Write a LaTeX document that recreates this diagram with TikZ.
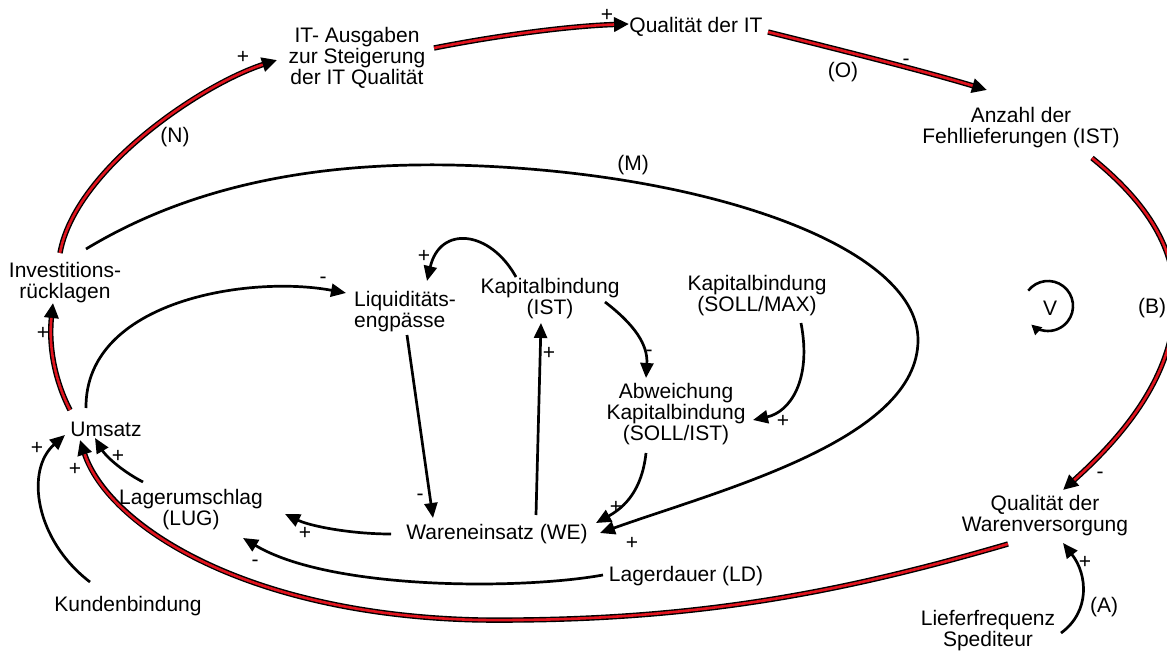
\documentclass[tikz,border=0pt]{standalone}
\usepackage{fontspec}
\setmainfont{Liberation Sans}
\usetikzlibrary{arrows.meta}
\definecolor{redc}{RGB}{225,20,30}
\begin{document}
\begin{tikzpicture}[x=1pt,y=-1pt,
  txt/.style={font=\fontsize{21}{21}\selectfont, inner sep=0pt, align=center},
  lbl/.style={font=\fontsize{21}{21}\selectfont, inner sep=0pt},
  con/.style={draw=black, line width=2.7pt, -{Triangle[length=15pt,width=13pt]}},
  loopar/.style={draw=black, line width=2.6pt, -{Triangle[length=10pt,width=10pt]}},
  redcon/.style={draw=redc, line width=2.6pt, shorten >=15pt,
    preaction={draw=black, line width=5.4pt, shorten >=0pt, -{Triangle[length=15pt,width=14pt]}}}]
\useasboundingbox (0,0) rectangle (1167,652);
\clip (0,0) rectangle (1167,652);
\fill[white] (0,0) rectangle (1167,652);

% variables
\node[txt] (itaus) at (357,58) {IT- Ausgaben\\zur Steigerung\\der IT Qualität};
\node[txt] (qit) at (696,27) {Qualität der IT};
\node[txt] (anz) at (1021,128) {Anzahl der\\Fehllieferungen (IST)};
\node[txt] (inv) at (65,283) {Investitions-\\rücklagen};
\node[txt, align=left] (liq) at (405,312) {Liquiditäts-\\engpässe};
\node[txt] (kist) at (550,299) {Kapitalbindung\\(IST)};
\node[txt] (ksoll) at (757,296) {Kapitalbindung\\(SOLL/MAX)};
\node[txt] (abw) at (676,414) {Abweichung\\Kapitalbindung\\(SOLL/IST)};
\node[txt] (ums) at (106,429) {Umsatz};
\node[txt] (lug) at (191,510) {Lagerumschlag\\(LUG)};
\node[txt] (we) at (497,534) {Wareneinsatz (WE)};
\node[txt] (ld) at (686,576) {Lagerdauer (LD)};
\node[txt] (kund) at (128,606) {Kundenbindung};
\node[txt] (qwv) at (1045,516) {Qualität der\\Warenversorgung};
\node[txt] (lief) at (988,631) {Lieferfrequenz\\Spediteur};
\node[lbl] (vloop) at (1050,308) {V};

% red connectors
\draw[redcon] ([shift={(-5,-30)}]inv.center) .. controls (75,170) and (200,85) .. ([shift={(-80,2)}]itaus.center);
\draw[redcon] ([shift={(77,-10)}]itaus.center) .. controls (500,35) and (570,26) .. ([shift={(-67,-3)}]qit.center);
\draw[redcon] ([shift={(72,5)}]qit.center) .. controls (840,50) and (920,70) .. ([shift={(-34,-38)}]anz.center);
\draw[redcon] ([shift={(71,30)}]anz.center) .. controls (1150,205) and (1175,250) .. (1175,300) .. controls (1175,370) and (1130,430) .. ([shift={(18,-26)}]qwv.center);
\draw[redcon] ([shift={(-37,28)}]qwv.center) .. controls (850,590) and (700,622) .. (480,620) .. controls (245,615) and (108,525) .. ([shift={(-26,11)}]ums.center);
\draw[redcon] ([shift={(-36,-19)}]ums.center) .. controls (52,375) and (49,340) .. ([shift={(-12,20)}]inv.center);

% black connectors
\draw[con] ([shift={(21,-34)}]inv.center) .. controls (200,180) and (330,163) .. (450,165) .. controls (700,170) and (918,245) .. (918,340) .. controls (918,440) and (720,490) .. ([shift={(103,-1)}]we.center);
\draw[con] ([shift={(-20,-21)}]ums.center) .. controls (85,300) and (250,275) .. ([shift={(-59,-19)}]liq.center);
\draw[con] ([shift={(-34,-22)}]kist.center) .. controls (490,230) and (440,225) .. ([shift={(22,-31)}]liq.center);
\draw[con] ([shift={(2,23)}]liq.center) -- ([shift={(-64,-16)}]we.center);
\draw[con] ([shift={(39,-19)}]we.center) -- ([shift={(-9,24)}]kist.center);
\draw[con] ([shift={(55,3)}]kist.center) .. controls (635,325) and (648,345) .. ([shift={(-30,-36)}]abw.center);
\draw[con] ([shift={(44,27)}]ksoll.center) .. controls (812,380) and (790,412) .. ([shift={(77,6)}]abw.center);
\draw[con] ([shift={(-30,39)}]abw.center) .. controls (642,490) and (625,507) .. ([shift={(99,-11)}]we.center);
\draw[con] ([shift={(-106,0)}]we.center) .. controls (350,534) and (310,526) .. ([shift={(94,4)}]lug.center);
\draw[con] ([shift={(-48,-28)}]lug.center) .. controls (120,470) and (105,455) .. ([shift={(-11,9)}]ums.center);
\draw[con] ([shift={(-38,-24)}]kund.center) .. controls (35,540) and (25,470) .. ([shift={(-41,6)}]ums.center);
\draw[con] ([shift={(-83,-1)}]ld.center) .. controls (520,590) and (330,590) .. ([shift={(52,28)}]lug.center);
\draw[con] ([shift={(73,2)}]lief.center) .. controls (1090,612) and (1088,575) .. ([shift={(18,27)}]qwv.center);

% loop symbol
\draw[loopar] ([shift={(-21.7,-17.4)}]vloop.center) arc[start angle=218, end angle=492, radius=25];

% labels
\node[lbl] (lN) at (175,137) {(N)};
\node[lbl] (p1) at (243,57) {+};
\node[lbl] (p2) at (607,15) {+};
\node[lbl] (lO) at (843,72) {(O)};
\node[lbl] (m1) at (906,62) {-};
\node[lbl] (lM) at (633,165) {(M)};
\node[lbl] (lB) at (1152,308) {(B)};
\node[lbl] (m2) at (1100,475) {-};
\node[lbl] (p3) at (1085,562) {+};
\node[lbl] (lA) at (1104,607) {(A)};
\node[lbl] (p4) at (424,256) {+};
\node[lbl] (m3) at (323,280) {-};
\node[lbl] (m4) at (420,497) {-};
\node[lbl] (p5) at (549,353) {+};
\node[lbl] (m5) at (649,353) {-};
\node[lbl] (p6) at (783,421) {+};
\node[lbl] (p7) at (616,507) {+};
\node[lbl] (p8) at (632,543) {+};
\node[lbl] (p9) at (305,533) {+};
\node[lbl] (m6) at (255,563) {-};
\node[lbl] (p10) at (118,456) {+};
\node[lbl] (p11) at (37,448) {+};
\node[lbl] (p12) at (75,469) {+};
\node[lbl] (p13) at (43,333) {+};
\end{tikzpicture}
\end{document}
